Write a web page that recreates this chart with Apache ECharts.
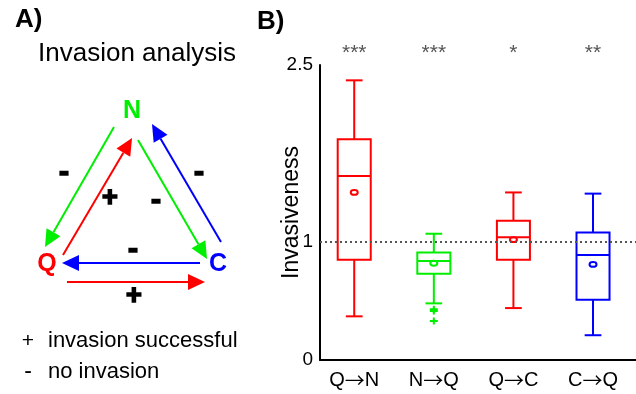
<!DOCTYPE html>
<html>
<head>
<meta charset="utf-8">
<script src="https://cdn.jsdelivr.net/npm/echarts@6/dist/echarts.min.js"></script>
<style>
  html, body { margin: 0; padding: 0; background: #fff; }
  #chart { width: 636px; height: 394px; }
</style>
</head>
<body>
<div id="chart"></div>
<script>
// Invasiveness box plot data per invasion direction
const categories  = ['Q→N', 'N→Q', 'Q→C', 'C→Q'];
const whiskerLow  = [0.37, 0.48, 0.44, 0.21];
const quartile1   = [0.85, 0.73, 0.85, 0.51];
const medians     = [1.56, 0.84, 1.04, 0.89];
const quartile3   = [1.87, 0.91, 1.18, 1.08];
const whiskerHigh = [2.37, 1.07, 1.42, 1.41];
const means       = [1.42, 0.82, 1.02, 0.81];
const significance = ['***', '***', '*', '**'];
const boxColors   = ['#ff0000', '#00ee00', '#ff0000', '#0000ff'];

// Outliers (category position, value)
const outlierCategory = [2, 2, 2];
const outlierValues   = [0.43, 0.415, 0.33];

const yTickValues = [0, 1, 2.5];

const FONT = '"Liberation Sans", Arial, Helvetica, sans-serif';
const GREEN = '#00ee00', RED = '#ff0000', BLUE = '#0000ff';

const chart = echarts.init(document.getElementById('chart'));

// Arrow for the invasion diagram: shaft plus a filled head at the tip
function arrow(x1, y1, x2, y2, color) {
  const len = Math.hypot(x2 - x1, y2 - y1);
  const ux = (x2 - x1) / len, uy = (y2 - y1) / len;
  const headLen = 17, halfW = 8;
  const bx = x2 - ux * headLen, by = y2 - uy * headLen;
  return [
    { type: 'line', shape: { x1: x1, y1: y1, x2: bx, y2: by },
      style: { stroke: color, lineWidth: 2 } },
    { type: 'polygon',
      shape: { points: [[x2, y2], [bx - uy * halfW, by + ux * halfW], [bx + uy * halfW, by - ux * halfW]] },
      style: { fill: color } }
  ];
}

function label(x, y, text, opts) {
  return {
    type: 'text', x: x, y: y,
    style: Object.assign({ text: text, fill: '#000', align: 'center', verticalAlign: 'middle',
      fontFamily: FONT, fontSize: 20 }, opts || {})
  };
}

// heavy signs on the diagram edges
const minus = { fontSize: 30, fontWeight: 'bold', stroke: '#000', lineWidth: 1.6 };
const plus  = { fontSize: 27, fontWeight: 'bold', stroke: '#000', lineWidth: 1.6 };

const diagram = [].concat(
  [
    label(15, 20, 'A)', { align: 'left', fontSize: 26, fontWeight: 'bold' }),
    label(257, 22, 'B)', { align: 'left', fontSize: 26, fontWeight: 'bold' }),
    label(137, 54, 'Invasion analysis', { fontSize: 26 }),
    label(132, 111, 'N', { fontSize: 25, fontWeight: 'bold', fill: GREEN }),
    label(47, 264, 'Q', { fontSize: 25, fontWeight: 'bold', fill: RED }),
    label(218, 264, 'C', { fontSize: 25, fontWeight: 'bold', fill: BLUE }),
    label(64, 173, '-', minus),
    label(110, 199, '+', plus),
    label(156, 201, '-', minus),
    label(199, 173, '-', minus),
    label(133, 250, '-', minus),
    label(134, 297, '+', plus),
    label(28, 341, '+', { fontSize: 21 }),
    label(48, 341, 'invasion successful', { align: 'left', fontSize: 22 }),
    label(28, 372, '-', { fontSize: 23 }),
    label(48, 372, 'no invasion', { align: 'left', fontSize: 22 })
  ],
  arrow(114, 127, 45, 247, GREEN),
  arrow(63, 255, 132, 138, RED),
  arrow(138, 140, 207, 259, GREEN),
  arrow(221, 242, 152, 124, BLUE),
  arrow(200, 263, 62, 263, BLUE),
  arrow(67, 282, 205, 282, RED)
);

const boxData = categories.map((c, i) =>
  [i + 1, whiskerLow[i], quartile1[i], medians[i], quartile3[i], whiskerHigh[i], means[i]]);

function renderBox(params, api) {
  const i = params.dataIndex;
  const x = api.value(0);
  const color = boxColors[i];
  const low = api.coord([x, api.value(1)]);
  const q1 = api.coord([x, api.value(2)]);
  const med = api.coord([x, api.value(3)]);
  const q3 = api.coord([x, api.value(4)]);
  const high = api.coord([x, api.value(5)]);
  const mean = api.coord([x, api.value(6)]);
  const top = api.coord([x, 2.5]);
  const halfBox = api.size([0.415, 0])[0] / 2;
  const halfCap = api.size([0.21, 0])[0] / 2;
  const cx = low[0];
  const s = { stroke: color, lineWidth: 2 };
  return {
    type: 'group',
    children: [
      { type: 'line', shape: { x1: cx, y1: low[1], x2: cx, y2: q1[1] }, style: s },
      { type: 'line', shape: { x1: cx, y1: q3[1], x2: cx, y2: high[1] }, style: s },
      { type: 'line', shape: { x1: cx - halfCap, y1: low[1], x2: cx + halfCap, y2: low[1] }, style: s },
      { type: 'line', shape: { x1: cx - halfCap, y1: high[1], x2: cx + halfCap, y2: high[1] }, style: s },
      { type: 'rect', shape: { x: cx - halfBox, y: q3[1], width: halfBox * 2, height: q1[1] - q3[1] },
        style: { fill: 'none', stroke: color, lineWidth: 2 } },
      { type: 'line', shape: { x1: cx - halfBox, y1: med[1], x2: cx + halfBox, y2: med[1] }, style: s },
      { type: 'ellipse', shape: { cx: mean[0], cy: mean[1], rx: 3.5, ry: 2.4 },
        style: { fill: 'none', stroke: color, lineWidth: 2 } },
      { type: 'text', x: cx, y: top[1] - 12,
        style: { text: significance[i], fill: '#555', align: 'center', verticalAlign: 'middle',
          fontFamily: FONT, fontSize: 21 } }
    ]
  };
}

chart.setOption({
  animation: false,
  backgroundColor: '#fff',
  graphic: diagram,
  grid: { left: 320, right: 0, top: 65, bottom: 34, containLabel: false },
  xAxis: {
    type: 'value', min: 0.57, max: 4.54,
    axisLine: { show: true, lineStyle: { color: '#000', width: 2 } },
    axisTick: { show: false },
    splitLine: { show: false },
    axisLabel: {
      customValues: [1, 2, 3, 4],
      formatter: v => {
        const parts = (categories[Math.round(v) - 1] || '').split('→');
        return parts.length === 2 ? parts[0] + '{arr|→}' + parts[1] : parts[0];
      },
      color: '#000', fontSize: 20, fontFamily: FONT, margin: 10,
      rich: {
        arr: { fontFamily: '"Noto Sans CJK SC"', fontSize: 20, color: '#000' }
      }
    }
  },
  yAxis: {
    type: 'value', min: 0, max: 2.5,
    name: 'Invasiveness', nameLocation: 'middle', nameRotate: 90, nameGap: 17,
    nameMoveOverlap: false,
    nameTextStyle: { color: '#000', fontSize: 23, fontFamily: FONT },
    axisLine: { show: true, lineStyle: { color: '#000', width: 2 } },
    axisTick: { show: false },
    splitLine: { show: false },
    axisLabel: {
      customValues: yTickValues,
      color: '#000', fontSize: 19, fontFamily: FONT, margin: 7
    }
  },
  series: [
    {
      type: 'custom',
      data: boxData,
      renderItem: renderBox,
      clip: false,
      markLine: {
        silent: true, symbol: 'none',
        label: { show: false },
        lineStyle: { color: '#555', type: [2, 3], width: 2 },
        data: [{ yAxis: 1 }]
      }
    },
    {
      type: 'scatter',
      data: outlierValues.map((v, k) => [outlierCategory[k], v]),
      symbol: 'path://M0,2.5H8V4.5H0Z M3,0H5V7H3Z',
      symbolSize: [8, 7],
      itemStyle: { color: GREEN, opacity: 1 }
    }
  ]
});
</script>
</body>
</html>
